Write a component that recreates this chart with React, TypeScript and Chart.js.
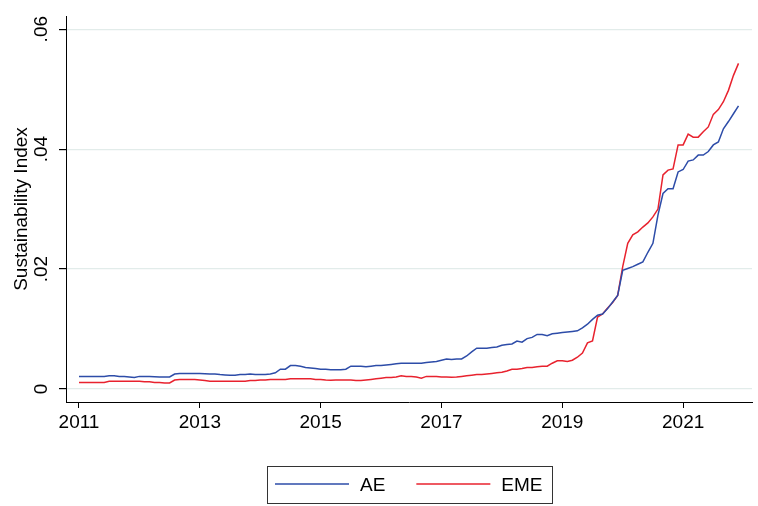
import React, { useEffect, useRef } from "react";
import { Chart, registerables } from "chart.js";

Chart.register(...registerables);

const START_YEAR = 2011;
const seriesNames = ["AE", "EME"];
const seriesColors = ["#2d4ca8", "#e8222e"];

// Monthly values, 2011m1 .. 2021m12 (one line per year)
const ae = [
  0.0021, 0.0021, 0.0021, 0.0021, 0.0021, 0.0021, 0.0022, 0.0022, 0.0021, 0.0021, 0.002, 0.0019,
  0.0021, 0.0021, 0.0021, 0.00205, 0.002, 0.002, 0.002, 0.0025, 0.0026, 0.0026, 0.0026, 0.0026,
  0.0026, 0.00255, 0.0025, 0.0025, 0.0024, 0.00235, 0.0023, 0.0023, 0.0024, 0.0024, 0.0025, 0.0024,
  0.0024, 0.0024, 0.0025, 0.0027, 0.0033, 0.0033, 0.0039, 0.0039, 0.0038, 0.0036, 0.0035, 0.0034,
  0.0033, 0.0033, 0.0032, 0.0032, 0.0032, 0.0033, 0.0038, 0.0038, 0.0038, 0.0037, 0.0038, 0.0039,
  0.0039, 0.004, 0.0041, 0.0042, 0.0043, 0.0043, 0.0043, 0.0043, 0.0043, 0.0044, 0.0045, 0.0046,
  0.0048, 0.005, 0.0049, 0.005, 0.005, 0.0055, 0.0062, 0.0068, 0.0068, 0.0068, 0.0069, 0.007,
  0.0073, 0.0074, 0.0075, 0.008, 0.0078, 0.0084, 0.0086, 0.0091, 0.0091, 0.0089, 0.0092, 0.0093,
  0.0094, 0.0095, 0.0096, 0.0097, 0.0102, 0.0108, 0.0116, 0.0123, 0.0125, 0.0134, 0.0145, 0.0156,
  0.0198, 0.0201, 0.0204, 0.0208, 0.0212, 0.0228, 0.0243, 0.029, 0.0326, 0.0334, 0.0334, 0.0362,
  0.0366, 0.038, 0.0382, 0.039, 0.039, 0.0396, 0.0407, 0.0412, 0.0434, 0.0446, 0.0459, 0.0472,
];

const eme = [
  0.0011, 0.0011, 0.0011, 0.0011, 0.0011, 0.0011, 0.0013, 0.0013, 0.0013, 0.0013, 0.0013, 0.0013,
  0.0013, 0.0012, 0.0012, 0.0011, 0.0011, 0.001, 0.001, 0.0015, 0.0016, 0.0016, 0.0016, 0.0016,
  0.0015, 0.0014, 0.0013, 0.0013, 0.0013, 0.0013, 0.0013, 0.0013, 0.0013, 0.0013, 0.0014, 0.0014,
  0.0015, 0.0015, 0.0016, 0.0016, 0.0016, 0.0016, 0.0017, 0.0017, 0.0017, 0.0017, 0.0017, 0.0016,
  0.0016, 0.0015, 0.00145, 0.0015, 0.0015, 0.0015, 0.0015, 0.0014, 0.0014, 0.0015, 0.0016, 0.0017,
  0.0018, 0.0019, 0.0019, 0.002, 0.0022, 0.0021, 0.0021, 0.002, 0.0018, 0.0021, 0.0021, 0.0021,
  0.002, 0.002, 0.00195, 0.002, 0.0021, 0.0022, 0.0023, 0.0024, 0.0024, 0.0025, 0.0026, 0.0027,
  0.0028, 0.003, 0.0033, 0.0033, 0.0034, 0.0036, 0.0036, 0.0037, 0.0038, 0.0038, 0.0043, 0.0047,
  0.0047, 0.0046, 0.0048, 0.0053, 0.006, 0.0077, 0.008, 0.012, 0.0125, 0.0135, 0.0144, 0.0156,
  0.0204, 0.0243, 0.0257, 0.0262, 0.027, 0.0277, 0.0287, 0.03, 0.0357, 0.0365, 0.0367, 0.0407,
  0.0407, 0.0425, 0.042, 0.042, 0.0429, 0.0437, 0.0458, 0.0466, 0.0479, 0.0498, 0.0523, 0.0543,
];

const xTicks = [2011, 2013, 2015, 2017, 2019, 2021];
const yTicks = [0, 0.02, 0.04, 0.06];
const yTickLabels = ["0", ".02", ".04", ".06"];
const yTitle = "Sustainability Index";

const X_MIN = 2010.785;
const X_MAX = 2022.14;
const Y_MIN = -0.00217;
const Y_MAX = 0.0622;

const FONT = '"Liberation Sans", Arial, Helvetica, sans-serif';
const FONT_SIZE = 19;

const toPoints = (vals: number[]) =>
  vals.map((v, i) => ({ x: START_YEAR + i / 12, y: v }));

const customDraw = {
  id: "customDraw",
  afterDraw(chart: any) {
    const ctx: CanvasRenderingContext2D = chart.ctx;
    const area = chart.chartArea;
    const yScale = chart.scales.y;
    ctx.save();
    ctx.fillStyle = "#000";
    ctx.font = `${FONT_SIZE}px ${FONT}`;
    ctx.textAlign = "center";
    ctx.textBaseline = "alphabetic";

    // rotated y tick labels
    yTicks.forEach((v, i) => {
      const py = yScale.getPixelForValue(v);
      ctx.save();
      ctx.translate(area.left - 19, py);
      ctx.rotate(-Math.PI / 2);
      ctx.fillText(yTickLabels[i], 0, 0);
      ctx.restore();
    });

    // y axis title
    ctx.save();
    ctx.translate(area.left - 39.5, (area.top + area.bottom) / 2);
    ctx.rotate(-Math.PI / 2);
    ctx.fillText(yTitle, 0, 0);
    ctx.restore();

    // legend with border box
    const ds = chart.data.datasets;
    const lineLen = 74;
    const padL = 8;
    const gapText = 11;
    const gapItem = 31;
    const padR = 9;
    const widths = ds.map((d: any) => ctx.measureText(d.label).width);
    let total = padL + padR;
    ds.forEach((d: any, i: number) => {
      total += lineLen + gapText + widths[i];
      if (i < ds.length - 1) total += gapItem;
    });
    const boxH = 37;
    const boxTop = chart.height - 40;
    const boxLeft = Math.round((area.left + area.right) / 2 - total / 2);
    ctx.strokeStyle = "#333";
    ctx.lineWidth = 1;
    ctx.strokeRect(boxLeft + 0.5, boxTop + 0.5, Math.round(total), boxH);
    let cx = boxLeft + padL;
    const ly = boxTop + 18;
    ctx.textAlign = "left";
    ds.forEach((d: any, i: number) => {
      ctx.strokeStyle = d.borderColor;
      ctx.lineWidth = 1.5;
      ctx.beginPath();
      ctx.moveTo(cx, ly);
      ctx.lineTo(cx + lineLen, ly);
      ctx.stroke();
      cx += lineLen + gapText;
      ctx.fillStyle = "#000";
      ctx.fillText(d.label, cx, boxTop + 25);
      cx += widths[i] + gapItem;
    });
    ctx.restore();
  },
};

export default function App() {
  const ref = useRef<HTMLCanvasElement | null>(null);

  useEffect(() => {
    document.body.style.margin = "0";
    const canvas = ref.current;
    if (!canvas) return;
    const chart = new Chart(canvas, {
      type: "line",
      data: {
        datasets: [
          {
            label: seriesNames[0],
            data: toPoints(ae),
            borderColor: seriesColors[0],
            backgroundColor: seriesColors[0],
            borderWidth: 1.5,
            pointRadius: 0,
            tension: 0,
          },
          {
            label: seriesNames[1],
            data: toPoints(eme),
            borderColor: seriesColors[1],
            backgroundColor: seriesColors[1],
            borderWidth: 1.5,
            pointRadius: 0,
            tension: 0,
          },
        ],
      },
      options: {
        animation: false,
        responsive: false,
        devicePixelRatio: 1,
        layout: { padding: { top: 16, right: 6, left: 0, bottom: 0 } },
        plugins: {
          legend: { display: false },
          tooltip: { enabled: false },
        },
        scales: {
          x: {
            type: "linear",
            min: X_MIN,
            max: X_MAX,
            afterBuildTicks: (s: any) => {
              s.ticks = xTicks.map((v) => ({ value: v }));
            },
            afterFit: (s: any) => {
              s.height = 104;
            },
            border: { display: true, color: "#000", width: 1 },
            grid: {
              display: true,
              drawOnChartArea: false,
              drawTicks: true,
              tickLength: 6,
              color: "#000",
              tickColor: "#000",
            },
            ticks: {
              color: "#000",
              font: { size: FONT_SIZE, family: FONT },
              padding: 3,
              maxRotation: 0,
              minRotation: 0,
              autoSkip: false,
              callback: (v: any) => String(v),
            },
          },
          y: {
            type: "linear",
            min: Y_MIN,
            max: Y_MAX,
            afterBuildTicks: (s: any) => {
              s.ticks = yTicks.map((v) => ({ value: v }));
            },
            afterFit: (s: any) => {
              s.width = 66;
            },
            border: { display: true, color: "#000", width: 1 },
            grid: {
              display: true,
              drawOnChartArea: true,
              drawTicks: true,
              tickLength: 7,
              color: "#e2ecea",
              tickColor: "#000",
              lineWidth: 1.2,
            },
            ticks: { display: false },
          },
        },
      },
      plugins: [customDraw],
    });
    return () => chart.destroy();
  }, []);

  return (
    <div style={{ width: 758, height: 506 }}>
      <canvas ref={ref} width={758} height={506} style={{ display: "block" }} />
    </div>
  );
}
